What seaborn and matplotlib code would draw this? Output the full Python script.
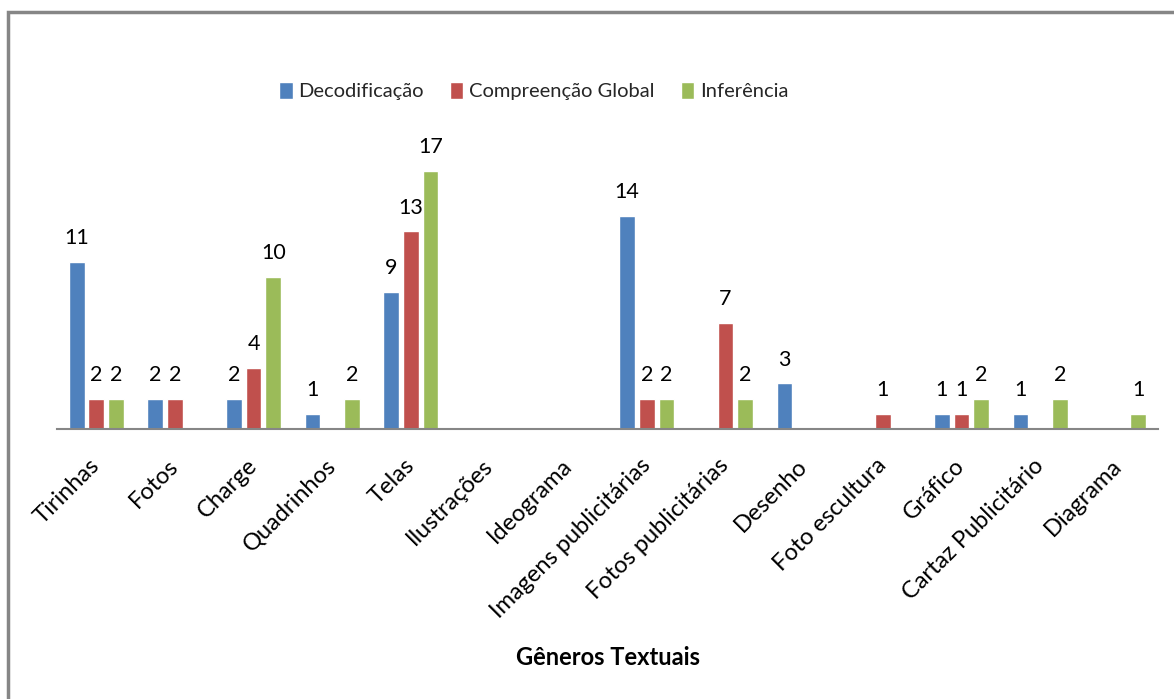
import matplotlib
matplotlib.use("Agg")
import matplotlib.pyplot as plt
import seaborn as sns
import pandas as pd
from matplotlib.patches import Rectangle

categories = ["Tirinhas", "Fotos", "Charge", "Quadrinhos", "Telas", "Ilustrações",
              "Ideograma", "Imagens publicitárias", "Fotos publicitárias", "Desenho",
              "Foto escultura", "Gráfico", "Cartaz Publicitário", "Diagrama"]
series_names = ["Decodificação", "Compreenção Global", "Inferência"]
decodificacao = [11, 2, 2, 1, 9, 0, 0, 14, 0, 3, 0, 1, 1, 0]
compreensao = [2, 2, 4, 0, 13, 0, 0, 2, 7, 0, 1, 1, 0, 0]
inferencia = [2, 0, 10, 2, 17, 0, 0, 2, 2, 0, 0, 2, 2, 1]
colors = ["#4F81BD", "#C0504D", "#9BBB59"]
x_title = "Gêneros Textuais"

rows = []
for name, vals in zip(series_names, [decodificacao, compreensao, inferencia]):
    for c, v in zip(categories, vals):
        rows.append({"Gênero": c, "Série": name, "Valor": v})
df = pd.DataFrame(rows)

sns.set_theme(style="white")
plt.rcParams["font.family"] = ["Lato", "DejaVu Sans"]

W, H = 1174, 699
fig = plt.figure(figsize=(W / 100, H / 100), dpi=100)
ax = fig.add_axes([57 / W, (H - 429) / H, 1101 / W, (429 - 125) / H])

sns.barplot(data=df, x="Gênero", y="Valor", hue="Série", order=categories,
            hue_order=series_names, palette=colors, width=0.75, gap=0.2,
            saturation=1, ax=ax, legend=True)

ax.set_ylim(0, 20)
ax.set_xlim(-0.5, len(categories) - 0.5)
for s in ["top", "right", "left"]:
    ax.spines[s].set_visible(False)
ax.spines["bottom"].set_color("#868686")
ax.spines["bottom"].set_linewidth(1.5)
ax.set_yticks([])
ax.set_ylabel("")

for cont in ax.containers:
    labels = [f"{b.get_height():g}" if b.get_height() > 0 else "" for b in cont]
    ax.bar_label(cont, labels=labels, padding=10, fontsize=15.5, color="black")

ax.tick_params(axis="x", length=0, pad=24)
ax.set_xticks(range(len(categories)))
ax.set_xticklabels(categories, rotation=45, ha="right", va="center",
                   rotation_mode="anchor", fontsize=17, color="black")
ax.set_xlabel(x_title, fontsize=17, fontweight="bold", color="black")
ax.xaxis.set_label_coords(0.5, -(646 - 429) / (429 - 125))

handles, labs = ax.get_legend_handles_labels()
ax.legend(handles, labs, loc="center", bbox_to_anchor=(534 / W, 1 - 91 / H),
          bbox_transform=fig.transFigure, ncol=3, frameon=False, fontsize=14.5,
          handlelength=0.65, handleheight=0.9, handletextpad=0.3, columnspacing=1.3)

fig.patches.append(Rectangle((8 / W, -0.05), 1.2, 1 - 12 / H + 0.05,
                             transform=fig.transFigure, fill=False,
                             edgecolor="#868686", linewidth=2.5))

fig.savefig("out.png", dpi=100)
